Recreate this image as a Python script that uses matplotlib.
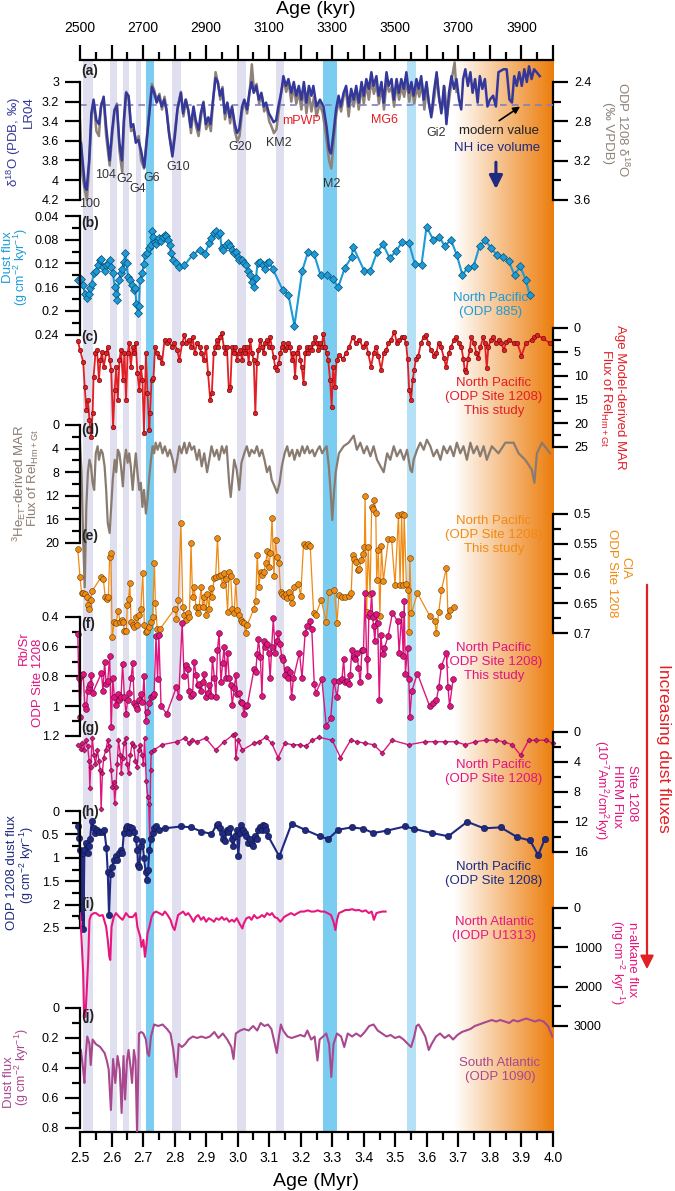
import numpy as np
import matplotlib
matplotlib.use('Agg')
import matplotlib.pyplot as plt
from matplotlib.colors import LinearSegmentedColormap
from matplotlib.ticker import MultipleLocator, FuncFormatter

plt.rcParams['font.family'] = ['Liberation Sans', 'DejaVu Sans']
plt.rcParams['mathtext.fontset'] = 'custom'
plt.rcParams['mathtext.rm'] = 'Liberation Sans'
plt.rcParams['mathtext.it'] = 'Liberation Sans:italic'
plt.rcParams['mathtext.bf'] = 'Liberation Sans:bold'
plt.rcParams['mathtext.default'] = 'regular'

# ---------------- data ----------------
# (a) LR04 benthic d18O
lr04_age = [2.503, 2.516, 2.521, 2.529, 2.536, 2.543, 2.552, 2.560, 2.567, 2.575,
            2.583, 2.594, 2.602, 2.609, 2.617, 2.625, 2.633, 2.639, 2.646, 2.654,
            2.662, 2.669, 2.677, 2.685, 2.693, 2.704, 2.711, 2.720, 2.728, 2.735,
            2.743, 2.750, 2.759, 2.767, 2.774, 2.782, 2.793, 2.801, 2.809, 2.820,
            2.827, 2.835, 2.843, 2.851, 2.860, 2.867, 2.876, 2.883, 2.891, 2.899,
            2.907, 2.914, 2.922, 2.930, 2.937, 2.944, 2.951, 2.959, 2.967, 2.975,
            2.982, 2.991, 2.998, 3.005, 3.014, 3.021, 3.030, 3.037, 3.044, 3.051,
            3.059, 3.067, 3.075, 3.083, 3.090, 3.099, 3.106, 3.114, 3.122, 3.129,
            3.138, 3.145, 3.153, 3.161, 3.170, 3.178, 3.186, 3.194, 3.202, 3.210,
            3.218, 3.226, 3.234, 3.240, 3.250, 3.261, 3.272, 3.282, 3.290, 3.296,
            3.304, 3.312, 3.320, 3.327, 3.336, 3.344, 3.352, 3.360, 3.368, 3.376,
            3.384, 3.393, 3.400, 3.408, 3.416, 3.424, 3.431, 3.440, 3.447, 3.456,
            3.463, 3.472, 3.479, 3.488, 3.495, 3.504, 3.511, 3.519, 3.527, 3.535,
            3.543, 3.551, 3.558, 3.567, 3.574, 3.582, 3.590, 3.599, 3.606, 3.614,
            3.622, 3.631, 3.638, 3.646, 3.654, 3.662, 3.670, 3.678, 3.686, 3.694,
            3.702, 3.709, 3.715, 3.722, 3.730, 3.738, 3.745, 3.753, 3.761, 3.768,
            3.776, 3.784, 3.792, 3.800, 3.810, 3.819, 3.827, 3.843, 3.853, 3.862,
            3.870, 3.877, 3.885, 3.893, 3.901, 3.909, 3.917, 3.924, 3.932, 3.940,
            3.948, 3.958]
lr04_d18o = [3.62, 4.07, 4.10, 3.80, 3.32, 3.18, 3.39, 3.43, 3.25, 3.15,
             3.46, 3.80, 3.49, 3.29, 3.24, 3.62, 3.80, 3.39, 3.11, 3.14,
             3.46, 3.43, 3.62, 3.59, 3.69, 3.87, 3.62, 3.32, 3.05, 3.11,
             3.21, 3.14, 3.25, 3.18, 3.28, 3.52, 3.76, 3.55, 3.28, 3.11,
             3.32, 3.18, 3.28, 3.46, 3.25, 3.39, 3.49, 3.32, 3.21, 3.43,
             3.36, 3.43, 3.18, 2.96, 3.00, 3.14, 3.07, 3.32, 3.21, 3.36,
             3.25, 3.43, 3.52, 3.48, 3.25, 3.18, 3.28, 3.11, 3.00, 3.11,
             3.04, 3.18, 3.11, 3.25, 3.21, 3.32, 3.36, 3.41, 3.39, 3.25,
             3.11, 2.94, 3.04, 2.97, 3.11, 3.00, 3.14, 3.04, 3.18, 3.00,
             3.21, 3.04, 3.14, 3.04, 3.25, 3.18, 3.25, 3.46, 3.69, 3.73,
             3.52, 3.28, 3.14, 3.25, 3.11, 3.04, 3.25, 3.07, 3.18, 3.04,
             3.21, 3.00, 3.14, 2.97, 3.07, 2.90, 3.04, 2.94, 3.14, 3.00,
             3.21, 2.90, 3.04, 2.97, 3.18, 2.97, 3.11, 2.97, 3.07, 2.90,
             3.11, 3.00, 3.14, 2.97, 3.07, 2.94, 3.18, 3.00, 3.21, 3.36,
             3.11, 2.90, 3.14, 3.32, 3.04, 3.43, 3.11, 2.94, 3.07, 2.97,
             3.18, 3.28, 2.97, 2.87, 3.04, 2.90, 3.11, 2.97, 3.21, 2.94,
             3.07, 2.97, 3.25, 3.18, 3.14, 3.25, 2.90, 2.87, 2.87, 3.18,
             3.21, 2.94, 3.04, 2.90, 3.04, 2.87, 3.00, 2.84, 2.97, 2.87,
             2.90, 2.94]

# (a) ODP 1208 benthic d18O
odp18_age = [2.500, 2.508, 2.515, 2.522, 2.530, 2.537, 2.545, 2.552, 2.560, 2.567,
             2.575, 2.583, 2.594, 2.602, 2.610, 2.617, 2.625, 2.634, 2.640, 2.647,
             2.655, 2.662, 2.670, 2.678, 2.686, 2.694, 2.703, 2.711, 2.720, 2.728,
             2.735, 2.745, 2.752, 2.760, 2.768, 2.776, 2.784, 2.793, 2.801, 2.810,
             2.820, 2.828, 2.836, 2.845, 2.852, 2.860, 2.868, 2.876, 2.884, 2.892,
             2.900, 2.908, 2.915, 2.923, 2.930, 2.938, 2.945, 2.952, 2.960, 2.968,
             2.976, 2.983, 2.991, 2.999, 3.006, 3.014, 3.022, 3.030, 3.038, 3.045,
             3.052, 3.060, 3.068, 3.076, 3.084, 3.092, 3.100, 3.107, 3.115, 3.123,
             3.130, 3.138, 3.146, 3.154, 3.162, 3.170, 3.178, 3.186, 3.194, 3.202,
             3.210, 3.218, 3.226, 3.234, 3.242, 3.250, 3.260, 3.270, 3.280, 3.290,
             3.297, 3.305, 3.313, 3.320, 3.328, 3.336, 3.344, 3.352, 3.360, 3.368,
             3.376, 3.384, 3.393, 3.400, 3.408, 3.416, 3.424, 3.432, 3.440, 3.448,
             3.456, 3.464, 3.472, 3.480, 3.488, 3.496, 3.504, 3.512, 3.520, 3.528,
             3.536, 3.544, 3.552, 3.560, 3.568, 3.576, 3.584, 3.592, 3.600, 3.608,
             3.616, 3.624, 3.632, 3.640, 3.648, 3.656, 3.664, 3.672, 3.680, 3.688,
             3.694]
odp18_d18o = [2.79, 3.35, 3.50, 3.60, 3.20, 2.72, 2.65, 2.90, 2.95, 2.62,
              2.58, 2.95, 3.25, 2.95, 2.68, 2.62, 3.10, 3.32, 2.80, 2.50,
              2.58, 2.90, 2.88, 3.00, 2.95, 3.20, 3.28, 3.00, 2.68, 2.42,
              2.48, 2.60, 2.52, 2.68, 2.55, 2.72, 2.95, 3.12, 2.90, 2.65,
              2.50, 2.75, 2.58, 2.72, 2.92, 2.68, 2.85, 2.95, 2.75, 2.60,
              2.88, 2.80, 2.90, 2.55, 2.30, 2.42, 2.58, 2.45, 2.78, 2.62,
              2.82, 2.68, 2.90, 3.00, 2.95, 2.70, 2.60, 2.72, 2.50, 2.22,
              2.50, 2.42, 2.62, 2.52, 2.70, 2.65, 2.80, 2.85, 2.92, 2.88,
              2.70, 2.50, 2.38, 2.50, 2.40, 2.60, 2.45, 2.62, 2.50, 2.68,
              2.45, 2.72, 2.52, 2.70, 2.55, 2.75, 2.62, 2.72, 2.95, 3.20,
              3.28, 3.00, 2.72, 2.60, 2.70, 2.55, 2.50, 2.75, 2.52, 2.65,
              2.50, 2.68, 2.45, 2.62, 2.42, 2.58, 2.38, 2.52, 2.42, 2.62,
              2.45, 2.68, 2.40, 2.50, 2.45, 2.65, 2.42, 2.58, 2.45, 2.55,
              2.38, 2.60, 2.45, 2.62, 2.45, 2.55, 2.40, 2.68, 2.45, 2.65,
              2.72, 2.55, 2.35, 2.60, 2.68, 2.45, 2.75, 2.55, 2.35, 2.20,
              2.50]

# (b) ODP 885 dust flux
odp885_age = [2.493, 2.502, 2.510, 2.515, 2.523, 2.527, 2.533, 2.537, 2.544, 2.551,
              2.557, 2.562, 2.567, 2.573, 2.578, 2.583, 2.589, 2.594, 2.599, 2.605,
              2.610, 2.615, 2.618, 2.623, 2.629, 2.634, 2.640, 2.644, 2.648, 2.652,
              2.657, 2.665, 2.671, 2.675, 2.679, 2.684, 2.687, 2.690, 2.697, 2.702,
              2.707, 2.713, 2.719, 2.724, 2.728, 2.732, 2.737, 2.742, 2.747, 2.752,
              2.757, 2.763, 2.768, 2.773, 2.778, 2.784, 2.789, 2.794, 2.805, 2.815,
              2.831, 2.857, 2.879, 2.896, 2.910, 2.917, 2.926, 2.931, 2.938, 2.944,
              2.949, 2.955, 2.963, 2.968, 2.976, 2.982, 2.989, 2.995, 3.000, 3.005,
              3.013, 3.019, 3.026, 3.034, 3.040, 3.044, 3.051, 3.058, 3.063, 3.072,
              3.079, 3.087, 3.093, 3.100, 3.111, 3.143, 3.161, 3.180, 3.205, 3.223,
              3.242, 3.263, 3.284, 3.301, 3.319, 3.340, 3.361, 3.366, 3.401, 3.421,
              3.442, 3.461, 3.482, 3.503, 3.521, 3.543, 3.562, 3.583, 3.599, 3.620,
              3.639, 3.657, 3.676, 3.695, 3.713, 3.729, 3.748, 3.767, 3.785, 3.804,
              3.822, 3.841, 3.859, 3.878, 3.896, 3.914, 3.926]
odp885_flux = [0.148, 0.147, 0.157, 0.171, 0.179, 0.171, 0.162, 0.154, 0.137, 0.132,
               0.123, 0.115, 0.113, 0.126, 0.132, 0.123, 0.121, 0.115, 0.126, 0.137,
               0.160, 0.171, 0.181, 0.148, 0.137, 0.129, 0.118, 0.103, 0.120, 0.143,
               0.148, 0.157, 0.165, 0.162, 0.189, 0.203, 0.192, 0.148, 0.137, 0.121,
               0.106, 0.103, 0.094, 0.089, 0.065, 0.075, 0.084, 0.087, 0.080, 0.077,
               0.083, 0.075, 0.072, 0.073, 0.080, 0.089, 0.103, 0.115, 0.120, 0.126,
               0.123, 0.106, 0.097, 0.104, 0.086, 0.077, 0.069, 0.066, 0.072, 0.069,
               0.094, 0.097, 0.089, 0.086, 0.091, 0.097, 0.103, 0.100, 0.109, 0.115,
               0.115, 0.120, 0.123, 0.132, 0.140, 0.152, 0.160, 0.145, 0.120, 0.118,
               0.123, 0.129, 0.120, 0.118, 0.129, 0.165, 0.173, 0.225, 0.132, 0.101,
               0.104, 0.140, 0.139, 0.147, 0.160, 0.127, 0.110, 0.092, 0.132, 0.132,
               0.101, 0.088, 0.111, 0.099, 0.084, 0.085, 0.121, 0.122, 0.058, 0.080,
               0.075, 0.091, 0.080, 0.106, 0.140, 0.127, 0.125, 0.091, 0.081, 0.094,
               0.106, 0.109, 0.116, 0.139, 0.125, 0.148, 0.174]

# (c) age-model MAR, Rel Hm+Gt flux, ODP 1208
mar_age = [2.493, 2.500, 2.510, 2.515, 2.520, 2.525, 2.530, 2.535, 2.540, 2.543,
           2.549, 2.554, 2.560, 2.565, 2.570, 2.575, 2.583, 2.588, 2.594, 2.599,
           2.605, 2.610, 2.615, 2.620, 2.625, 2.630, 2.636, 2.641, 2.646, 2.651,
           2.656, 2.661, 2.667, 2.672, 2.677, 2.682, 2.688, 2.693, 2.698, 2.703,
           2.709, 2.714, 2.720, 2.722, 2.727, 2.733, 2.738, 2.745, 2.752, 2.760,
           2.768, 2.776, 2.783, 2.791, 2.799, 2.808, 2.815, 2.824, 2.831, 2.837,
           2.845, 2.852, 2.857, 2.864, 2.871, 2.879, 2.885, 2.892, 2.900, 2.906,
           2.913, 2.918, 2.924, 2.929, 2.934, 2.939, 2.945, 2.950, 2.956, 2.961,
           2.966, 2.972, 2.977, 2.982, 2.988, 2.993, 2.998, 3.003, 3.008, 3.014,
           3.019, 3.024, 3.030, 3.035, 3.040, 3.045, 3.051, 3.056, 3.061, 3.066,
           3.072, 3.077, 3.082, 3.087, 3.093, 3.098, 3.103, 3.108, 3.114, 3.119,
           3.124, 3.130, 3.135, 3.140, 3.145, 3.150, 3.156, 3.161, 3.166, 3.172,
           3.177, 3.182, 3.187, 3.193, 3.198, 3.203, 3.209, 3.214, 3.219, 3.224,
           3.230, 3.235, 3.240, 3.245, 3.251, 3.256, 3.261, 3.266, 3.272, 3.277,
           3.282, 3.287, 3.293, 3.298, 3.303, 3.308, 3.314, 3.322, 3.333, 3.344,
           3.354, 3.365, 3.375, 3.386, 3.396, 3.407, 3.414, 3.423, 3.431, 3.439,
           3.446, 3.455, 3.463, 3.471, 3.478, 3.486, 3.497, 3.505, 3.513, 3.520,
           3.528, 3.534, 3.539, 3.544, 3.550, 3.555, 3.560, 3.565, 3.573, 3.581,
           3.590, 3.597, 3.605, 3.613, 3.622, 3.630, 3.637, 3.645, 3.654, 3.661,
           3.669, 3.677, 3.686, 3.693, 3.702, 3.709, 3.716, 3.720, 3.725, 3.730,
           3.736, 3.741, 3.750, 3.757, 3.763, 3.770, 3.779, 3.784, 3.790, 3.795,
           3.804, 3.811, 3.820, 3.828, 3.836, 3.844, 3.852, 3.860, 3.877, 3.887,
           3.900, 3.914, 3.932, 3.941, 3.950, 3.968, 3.991]
mar_flux = [2.7, 4.6, 7.1, 12.4, 17.2, 15.1, 19.3, 22.9, 17.9, 10.3,
            5.3, 4.6, 10.9, 6.7, 5.0, 8.2, 5.3, 4.0, 6.7, 8.8,
            20.8, 13.0, 8.2, 15.1, 6.7, 4.6, 10.9, 5.3, 15.1, 5.3,
            3.2, 8.2, 4.0, 5.3, 3.2, 9.5, 13.0, 8.2, 10.9, 22.1,
            5.3, 13.7, 21.4, 17.9, 10.9, 10.6, 4.0, 5.3, 6.1, 7.4,
            2.5, 3.2, 2.5, 4.0, 3.2, 4.6, 6.7, 3.2, 1.5, 3.2,
            2.5, 4.0, 1.8, 5.3, 3.2, 4.0, 5.3, 6.7, 4.0, 9.5,
            15.1, 13.7, 5.3, 4.0, 2.5, 4.0, 1.8, 1.1, 4.0, 5.3,
            4.0, 13.0, 12.3, 4.0, 5.3, 4.0, 6.7, 5.3, 4.6, 6.7,
            4.0, 5.3, 4.0, 7.4, 2.5, 5.3, 6.7, 17.9, 7.4, 4.6,
            2.5, 4.0, 5.3, 3.2, 2.5, 4.0, 1.8, 4.0, 6.1, 8.2,
            8.8, 7.4, 5.3, 4.0, 3.2, 4.6, 4.0, 3.2, 4.0, 6.7,
            5.3, 10.2, 5.3, 4.0, 6.7, 8.2, 11.6, 5.3, 4.0, 5.3,
            4.0, 4.6, 3.2, 1.8, 3.2, 4.6, 3.2, 4.0, 1.2, 4.0,
            5.3, 6.7, 10.9, 16.5, 8.2, 12.3, 6.7, 5.6, 6.6, 5.2,
            3.9, 1.9, 3.2, 2.5, 3.9, 3.2, 5.3, 8.2, 5.3, 3.9,
            5.8, 8.8, 5.3, 4.6, 3.2, 2.5, 0.8, 3.2, 2.5, 1.9,
            1.9, 3.2, 6.6, 13.1, 15.1, 10.9, 8.8, 6.6, 5.8, 3.2,
            1.9, 1.5, 3.2, 4.6, 5.8, 5.3, 3.2, 3.9, 6.3, 8.2,
            5.3, 3.9, 2.5, 1.9, 3.2, 3.9, 6.6, 8.8, 9.2, 6.6,
            4.6, 1.9, 3.2, 5.3, 6.3, 3.9, 1.9, 3.2, 8.4, 3.9,
            2.5, 1.9, 3.2, 2.5, 3.2, 4.6, 2.9, 2.5, 3.2, 3.2,
            5.8, 3.2, 2.5, 1.9, 1.5, 2.2, 3.2]

# (d) 3He_ET-derived MAR, Rel Hm+Gt flux
he_age = [2.500, 2.505, 2.510, 2.515, 2.520, 2.525, 2.530, 2.535, 2.540, 2.545,
          2.550, 2.556, 2.560, 2.567, 2.572, 2.578, 2.583, 2.588, 2.594, 2.599,
          2.604, 2.610, 2.615, 2.620, 2.625, 2.630, 2.636, 2.641, 2.646, 2.651,
          2.656, 2.661, 2.667, 2.672, 2.677, 2.682, 2.688, 2.693, 2.698, 2.703,
          2.709, 2.714, 2.719, 2.725, 2.730, 2.735, 2.740, 2.746, 2.754, 2.762,
          2.769, 2.778, 2.785, 2.794, 2.801, 2.808, 2.815, 2.822, 2.831, 2.838,
          2.847, 2.854, 2.862, 2.871, 2.878, 2.886, 2.894, 2.903, 2.910, 2.917,
          2.926, 2.934, 2.941, 2.950, 2.957, 2.965, 2.973, 2.978, 2.983, 2.989,
          2.997, 3.005, 3.012, 3.021, 3.029, 3.037, 3.044, 3.053, 3.061, 3.069,
          3.077, 3.085, 3.093, 3.101, 3.108, 3.117, 3.125, 3.133, 3.140, 3.149,
          3.157, 3.164, 3.173, 3.180, 3.189, 3.196, 3.205, 3.212, 3.221, 3.228,
          3.237, 3.244, 3.253, 3.260, 3.268, 3.274, 3.282, 3.289, 3.295, 3.300,
          3.306, 3.311, 3.321, 3.336, 3.352, 3.368, 3.378, 3.389, 3.400, 3.410,
          3.421, 3.431, 3.442, 3.453, 3.463, 3.474, 3.484, 3.495, 3.505, 3.516,
          3.527, 3.537, 3.548, 3.553, 3.558, 3.569, 3.579, 3.590, 3.600, 3.611,
          3.621, 3.632, 3.643, 3.653, 3.664, 3.674, 3.685, 3.695, 3.706, 3.716,
          3.727, 3.738, 3.748, 3.759, 3.769, 3.780, 3.790, 3.806, 3.827, 3.849,
          3.875, 3.891, 3.912, 3.933, 3.941, 3.949, 3.965, 3.991]
he_flux = [3.0, 8.0, 19.5, 27.5, 13.9, 8.0, 5.9, 7.0, 9.8, 11.0,
           4.8, 3.6, 5.9, 4.2, 4.8, 7.0, 11.0, 16.6, 18.3, 13.9,
           9.3, 5.9, 8.0, 4.2, 4.8, 7.0, 10.4, 5.9, 4.2, 6.4,
           4.8, 7.0, 11.0, 7.6, 4.8, 8.0, 11.0, 9.8, 13.9, 11.0,
           15.0, 12.7, 9.3, 5.9, 3.6, 4.8, 3.0, 4.2, 3.0, 4.8,
           3.6, 5.3, 4.2, 5.9, 8.0, 5.9, 3.6, 4.8, 3.0, 4.8,
           3.0, 4.2, 3.6, 5.9, 4.2, 7.0, 4.8, 8.0, 5.9, 3.6,
           5.3, 4.2, 5.9, 3.6, 4.8, 3.6, 9.8, 12.2, 9.3, 5.9,
           7.6, 11.0, 6.4, 4.8, 3.6, 5.3, 4.2, 4.8, 3.6, 5.3,
           4.2, 5.9, 8.0, 7.0, 9.3, 10.4, 11.5, 9.8, 7.0, 4.8,
           3.6, 5.3, 4.2, 5.9, 4.2, 5.3, 3.6, 4.8, 3.6, 4.8,
           4.2, 5.3, 4.2, 3.6, 4.8, 4.2, 3.6, 7.0, 11.5, 16.1,
           11.0, 8.0, 4.8, 3.6, 3.0, 1.8, 4.2, 3.0, 4.8, 3.6,
           5.3, 3.6, 5.9, 7.0, 8.0, 4.8, 5.9, 3.6, 5.3, 4.2,
           5.9, 4.2, 7.6, 8.0, 5.9, 4.2, 3.0, 4.2, 2.5, 3.6,
           5.3, 4.2, 5.9, 3.6, 4.8, 3.6, 5.3, 3.0, 4.8, 3.6,
           5.9, 3.0, 4.8, 3.6, 5.3, 3.6, 5.9, 3.6, 4.8, 3.0,
           3.0, 4.8, 5.9, 7.6, 9.8, 4.8, 3.0, 4.8]

# (e) CIA, ODP 1208
cia_age = [2.493, 2.500, 2.505, 2.510, 2.517, 2.521, 2.525, 2.528, 2.534, 2.538,
           2.567, 2.574, 2.580, 2.585, 2.590, 2.594, 2.598, 2.602, 2.609, 2.614,
           2.621, 2.627, 2.632, 2.637, 2.641, 2.647, 2.650, 2.654, 2.658, 2.662,
           2.667, 2.672, 2.677, 2.682, 2.688, 2.693, 2.699, 2.704, 2.709, 2.714,
           2.720, 2.725, 2.730, 2.736, 2.739, 2.745, 2.754, 2.801, 2.806, 2.812,
           2.820, 2.826, 2.831, 2.836, 2.842, 2.847, 2.852, 2.857, 2.862, 2.868,
           2.873, 2.878, 2.884, 2.889, 2.894, 2.899, 2.904, 2.909, 2.915, 2.920,
           2.925, 2.930, 2.936, 2.941, 2.946, 2.952, 2.957, 2.962, 2.968, 2.973,
           2.978, 2.983, 2.989, 2.994, 2.999, 3.004, 3.010, 3.015, 3.020, 3.025,
           3.030, 3.051, 3.057, 3.062, 3.067, 3.073, 3.078, 3.083, 3.089, 3.094,
           3.099, 3.104, 3.109, 3.115, 3.120, 3.125, 3.131, 3.136, 3.141, 3.147,
           3.152, 3.157, 3.162, 3.168, 3.173, 3.178, 3.192, 3.200, 3.209, 3.216,
           3.223, 3.230, 3.241, 3.247, 3.265, 3.281, 3.289, 3.307, 3.315, 3.321,
           3.331, 3.341, 3.352, 3.360, 3.365, 3.370, 3.376, 3.381, 3.386, 3.391,
           3.396, 3.402, 3.404, 3.409, 3.414, 3.420, 3.425, 3.430, 3.433, 3.438,
           3.441, 3.446, 3.451, 3.456, 3.462, 3.478, 3.488, 3.499, 3.510, 3.515,
           3.520, 3.525, 3.528, 3.535, 3.541, 3.543, 3.546, 3.551, 3.570, 3.609,
           3.625, 3.630, 3.638, 3.646, 3.662, 3.667, 3.672, 3.686]
cia_val = [0.559, 0.606, 0.633, 0.633, 0.634, 0.639, 0.653, 0.659, 0.645, 0.630,
           0.606, 0.610, 0.639, 0.643, 0.639, 0.572, 0.566, 0.707, 0.681, 0.684,
           0.663, 0.681, 0.678, 0.681, 0.697, 0.697, 0.653, 0.643, 0.616, 0.681,
           0.687, 0.690, 0.673, 0.687, 0.670, 0.659, 0.599, 0.687, 0.699, 0.696,
           0.690, 0.681, 0.673, 0.583, 0.650, 0.693, 0.693, 0.659, 0.676, 0.645,
           0.515, 0.656, 0.670, 0.678, 0.667, 0.673, 0.549, 0.639, 0.622, 0.656,
           0.667, 0.656, 0.622, 0.656, 0.639, 0.670, 0.634, 0.659, 0.625, 0.639,
           0.608, 0.606, 0.540, 0.605, 0.602, 0.619, 0.599, 0.610, 0.664, 0.597,
           0.605, 0.659, 0.667, 0.613, 0.662, 0.670, 0.678, 0.681, 0.684, 0.700,
           0.687, 0.660, 0.647, 0.569, 0.622, 0.598, 0.603, 0.598, 0.583, 0.563,
           0.589, 0.566, 0.507, 0.605, 0.543, 0.572, 0.583, 0.631, 0.634, 0.637,
           0.634, 0.642, 0.631, 0.639, 0.649, 0.622, 0.618, 0.637, 0.550, 0.553,
           0.551, 0.553, 0.667, 0.670, 0.645, 0.681, 0.631, 0.628, 0.683, 0.636,
           0.640, 0.640, 0.638, 0.632, 0.569, 0.575, 0.581, 0.594, 0.592, 0.578,
           0.567, 0.556, 0.470, 0.665, 0.555, 0.634, 0.488, 0.491, 0.477, 0.498,
           0.611, 0.560, 0.671, 0.554, 0.613, 0.542, 0.542, 0.619, 0.502, 0.619,
           0.500, 0.619, 0.502, 0.618, 0.627, 0.699, 0.574, 0.667, 0.633, 0.671,
           0.679, 0.700, 0.664, 0.628, 0.591, 0.671, 0.661, 0.656]

# (f) Rb/Sr, ODP 1208
rbsr_age = [2.493, 2.496, 2.500, 2.505, 2.510, 2.515, 2.520, 2.524, 2.529, 2.532,
            2.536, 2.540, 2.568, 2.573, 2.578, 2.583, 2.588, 2.594, 2.599, 2.604,
            2.609, 2.614, 2.620, 2.625, 2.630, 2.635, 2.641, 2.646, 2.651, 2.656,
            2.662, 2.667, 2.672, 2.677, 2.682, 2.688, 2.693, 2.698, 2.703, 2.709,
            2.714, 2.720, 2.725, 2.730, 2.735, 2.741, 2.746, 2.750, 2.757, 2.775,
            2.806, 2.813, 2.824, 2.830, 2.835, 2.841, 2.846, 2.852, 2.857, 2.862,
            2.868, 2.873, 2.878, 2.884, 2.889, 2.894, 2.900, 2.905, 2.910, 2.915,
            2.920, 2.926, 2.931, 2.936, 2.941, 2.947, 2.952, 2.957, 2.962, 2.968,
            2.973, 2.978, 2.983, 2.989, 2.994, 2.999, 3.004, 3.010, 3.015, 3.020,
            3.025, 3.031, 3.052, 3.057, 3.062, 3.066, 3.072, 3.077, 3.082, 3.087,
            3.092, 3.098, 3.103, 3.108, 3.113, 3.119, 3.124, 3.129, 3.134, 3.140,
            3.145, 3.150, 3.156, 3.161, 3.166, 3.171, 3.177, 3.196, 3.204, 3.214,
            3.220, 3.228, 3.235, 3.243, 3.248, 3.267, 3.281, 3.295, 3.305, 3.315,
            3.321, 3.331, 3.336, 3.341, 3.347, 3.352, 3.357, 3.362, 3.368, 3.373,
            3.378, 3.383, 3.389, 3.394, 3.399, 3.404, 3.409, 3.412, 3.416, 3.421,
            3.425, 3.428, 3.431, 3.435, 3.440, 3.444, 3.449, 3.454, 3.460, 3.465,
            3.477, 3.491, 3.507, 3.512, 3.520, 3.525, 3.528, 3.532, 3.539, 3.543,
            3.546, 3.552, 3.570, 3.609, 3.620, 3.630, 3.638, 3.646, 3.662, 3.667,
            3.672, 3.683]
rbsr_val = [0.514, 0.81, 1.07, 0.79, 0.78, 0.99, 1.02, 0.90, 0.87, 0.85,
            0.79, 0.91, 0.777, 0.90, 0.70, 0.85, 0.83, 0.66, 1.14, 0.81,
            0.94, 0.99, 0.92, 0.96, 0.94, 0.715, 0.94, 1.05, 0.96, 0.91,
            0.81, 0.71, 0.98, 1.00, 1.02, 0.96, 0.92, 0.97, 0.80, 1.10,
            1.04, 0.98, 0.94, 0.93, 0.92, 0.53, 0.82, 0.52, 1.00, 1.05,
            0.87, 0.94, 0.44, 0.80, 0.72, 0.75, 0.90, 0.93, 0.92, 0.70,
            0.79, 0.86, 0.85, 0.90, 0.84, 0.78, 0.94, 0.91, 0.86, 0.93,
            0.68, 0.81, 0.94, 0.62, 0.51, 0.84, 0.71, 0.60, 0.81, 0.64,
            0.81, 0.86, 0.99, 0.88, 0.79, 0.92, 0.91, 0.97, 0.98, 1.05,
            1.00, 0.99, 0.75, 0.77, 0.65, 0.55, 0.67, 0.93, 0.56, 0.60,
            0.58, 0.64, 0.81, 0.60, 0.41, 0.64, 0.56, 0.51, 0.58, 0.67,
            0.69, 0.79, 0.75, 0.81, 0.77, 0.94, 0.81, 0.64, 0.81, 0.51,
            0.46, 0.43, 0.48, 0.85, 0.91, 0.82, 1.13, 1.08, 0.83, 0.94,
            0.83, 0.82, 0.68, 0.84, 0.83, 0.85, 0.79, 0.62, 0.67, 0.68,
            0.64, 0.74, 0.84, 0.62, 0.62, 0.24, 0.68, 0.80, 0.39, 0.37,
            0.24, 0.40, 0.46, 0.56, 0.38, 0.44, 0.96, 0.52, 0.65, 0.61,
            0.53, 0.37, 0.43, 0.64, 0.38, 0.66, 0.29, 0.78, 0.61, 0.82,
            1.07, 0.90, 0.78, 1.00, 0.98, 0.96, 0.87, 0.73, 0.64, 0.87,
            1.00, 0.82]

# (g) HIRM flux, Site 1208
hirm_age = [2.494, 2.503, 2.507, 2.513, 2.518, 2.524, 2.529, 2.531, 2.534, 2.539,
            2.544, 2.549, 2.555, 2.560, 2.564, 2.567, 2.571, 2.575, 2.582, 2.588,
            2.593, 2.599, 2.603, 2.607, 2.610, 2.614, 2.618, 2.622, 2.628, 2.631,
            2.635, 2.640, 2.645, 2.649, 2.654, 2.660, 2.665, 2.670, 2.676, 2.681,
            2.686, 2.691, 2.697, 2.701, 2.705, 2.710, 2.715, 2.718, 2.721, 2.724,
            2.726, 2.734, 2.760, 2.808, 2.834, 2.845, 2.855, 2.871, 2.898, 2.930,
            2.957, 2.985, 2.992, 2.994, 3.002, 3.015, 3.052, 3.068, 3.089, 3.108,
            3.128, 3.150, 3.174, 3.197, 3.216, 3.237, 3.258, 3.300, 3.326, 3.358,
            3.379, 3.405, 3.432, 3.458, 3.490, 3.542, 3.595, 3.627, 3.659, 3.691,
            3.722, 3.754, 3.786, 3.818, 3.844, 3.871, 3.897, 3.923, 3.945, 3.977,
            4.000]
hirm_flux = [1.7, 2.2, 1.5, 2.4, 1.1, 1.9, 3.8, 7.5, 4.7, 0.8,
             3.0, 4.3, 2.4, 3.8, 5.1, 10.3, 5.5, 3.4, 2.4, 1.1,
             1.9, 5.1, 7.3, 6.7, 9.4, 7.3, 4.3, 1.1, 3.0, 5.5,
             3.4, 1.5, 0.8, 4.3, 5.5, 3.0, 1.5, 1.9, 3.8, 4.7,
             2.4, 1.7, 3.0, 4.3, 0.8, 6.5, 8.7, 9.6, 14.1, 5.1,
             2.6, 2.4, 1.7, 1.3, 0.8, 1.5, 1.1, 1.3, 0.8, 2.4,
             1.3, 0.4, 0.2, 3.5, 1.1, 2.4, 1.5, 1.3, 0.7, 1.5,
             3.4, 1.5, 1.7, 1.7, 1.9, 1.1, 0.7, 1.1, 3.4, 1.1,
             1.3, 1.5, 1.7, 2.8, 1.1, 1.7, 1.3, 1.3, 1.3, 1.3,
             1.7, 1.3, 1.1, 1.1, 1.3, 1.7, 3.1, 1.1, 1.1, 1.1,
             1.5]

# (h) ODP 1208 dust flux
dust1208_age = [2.493, 2.497, 2.500, 2.504, 2.508, 2.511, 2.514, 2.519, 2.524, 2.528,
                2.532, 2.537, 2.543, 2.548, 2.553, 2.561, 2.569, 2.577, 2.584, 2.588,
                2.592, 2.597, 2.602, 2.607, 2.613, 2.618, 2.623, 2.629, 2.634, 2.639,
                2.645, 2.650, 2.655, 2.660, 2.666, 2.671, 2.677, 2.682, 2.684, 2.688,
                2.693, 2.698, 2.703, 2.708, 2.712, 2.716, 2.720, 2.725, 2.730, 2.735,
                2.741, 2.751, 2.768, 2.821, 2.853, 2.885, 2.917, 2.933, 2.938, 2.944,
                2.949, 2.954, 2.960, 2.965, 2.970, 2.976, 2.981, 2.986, 2.991, 2.997,
                3.002, 3.007, 3.012, 3.018, 3.023, 3.028, 3.034, 3.039, 3.044, 3.049,
                3.055, 3.060, 3.065, 3.070, 3.076, 3.081, 3.086, 3.091, 3.097, 3.132,
                3.171, 3.213, 3.261, 3.287, 3.319, 3.361, 3.399, 3.430, 3.473, 3.531,
                3.558, 3.616, 3.668, 3.728, 3.781, 3.834, 3.887, 3.927, 3.953, 3.974]
dust1208_flux = [0.32, 0.58, 0.83, 2.27, 0.90, 2.52, 0.83, 0.68, 0.90, 0.75,
                 0.60, 0.21, 0.37, 0.47, 0.40, 0.45, 0.45, 0.40, 0.80, 1.30,
                 2.22, 1.35, 1.20, 1.05, 0.97, 1.05, 0.90, 0.83, 0.90, 0.47,
                 0.37, 0.33, 0.47, 0.35, 0.37, 0.44, 0.60, 0.83, 1.15, 1.20,
                 0.75, 0.65, 1.00, 1.30, 1.47, 1.26, 0.83, 0.60, 0.47, 0.37,
                 0.33, 0.40, 0.37, 0.33, 0.35, 0.44, 0.49, 0.30, 0.27, 0.37,
                 0.47, 0.60, 0.65, 0.40, 0.44, 0.37, 0.60, 0.75, 0.54, 0.40,
                 0.97, 0.47, 0.30, 0.40, 0.47, 0.54, 0.68, 0.60, 0.71, 0.75,
                 0.54, 0.60, 0.40, 0.35, 0.40, 0.30, 0.33, 0.40, 0.54, 0.97,
                 0.27, 0.40, 0.54, 0.60, 0.40, 0.35, 0.38, 0.47, 0.42, 0.33,
                 0.38, 0.47, 0.54, 0.23, 0.37, 0.35, 0.56, 0.63, 0.94, 0.60]

# (i) n-alkane flux, IODP U1313
alk_age = [2.490, 2.500, 2.503, 2.510, 2.513, 2.517, 2.521, 2.526, 2.530, 2.535,
           2.544, 2.551, 2.562, 2.572, 2.583, 2.588, 2.593, 2.596, 2.600, 2.607,
           2.614, 2.625, 2.635, 2.646, 2.656, 2.667, 2.677, 2.682, 2.691, 2.695,
           2.701, 2.706, 2.710, 2.714, 2.720, 2.727, 2.733, 2.741, 2.751, 2.762,
           2.769, 2.778, 2.787, 2.794, 2.800, 2.806, 2.811, 2.820, 2.827, 2.835,
           2.843, 2.852, 2.860, 2.867, 2.875, 2.884, 2.892, 2.900, 2.908, 2.917,
           2.925, 2.932, 2.941, 2.950, 2.957, 2.965, 2.973, 2.982, 2.989, 2.997,
           3.006, 3.015, 3.019, 3.028, 3.037, 3.044, 3.052, 3.061, 3.070, 3.077,
           3.085, 3.093, 3.102, 3.109, 3.117, 3.126, 3.135, 3.141, 3.147, 3.158,
           3.169, 3.180, 3.190, 3.200, 3.211, 3.222, 3.233, 3.243, 3.254, 3.264,
           3.275, 3.285, 3.296, 3.304, 3.310, 3.315, 3.321, 3.332, 3.342, 3.353,
           3.363, 3.374, 3.385, 3.395, 3.406, 3.416, 3.425, 3.432, 3.440, 3.448,
           3.459, 3.469]
alk_flux = [50, 130, 480, 1650, 2770, 2770, 2160, 1320, 305, 180,
            130, 130, 200, 180, 480, 810, 1240, 1320, 480, 230,
            130, 230, 300, 130, 230, 230, 130, 480, 730, 990,
            810, 1240, 990, 650, 480, 230, 130, 90, 130, 180,
            90, 180, 300, 480, 560, 350, 180, 130, 90, 180,
            130, 230, 350, 230, 180, 300, 230, 350, 260, 300,
            350, 260, 300, 230, 300, 260, 350, 300, 350, 260,
            400, 520, 400, 260, 230, 300, 180, 260, 230, 180,
            230, 130, 180, 130, 230, 260, 350, 300, 230, 180,
            130, 180, 130, 90, 90, 60, 90, 90, 60, 90,
            90, 130, 180, 350, 560, 300, 130, 90, 50, 50,
            30, 60, 50, 90, 60, 130, 90, 300, 130, 110,
            90, 90]

# (j) ODP 1090 dust flux
odp1090_age = [2.503, 2.510, 2.514, 2.518, 2.523, 2.530, 2.534, 2.540, 2.550, 2.564,
               2.578, 2.585, 2.591, 2.598, 2.605, 2.612, 2.619, 2.626, 2.632, 2.638,
               2.643, 2.649, 2.654, 2.660, 2.665, 2.671, 2.676, 2.681, 2.687, 2.694,
               2.701, 2.709, 2.714, 2.719, 2.725, 2.735, 2.748, 2.762, 2.776, 2.787,
               2.796, 2.806, 2.813, 2.823, 2.834, 2.844, 2.858, 2.871, 2.885, 2.899,
               2.912, 2.926, 2.939, 2.953, 2.967, 2.980, 2.987, 2.994, 3.008, 3.021,
               3.035, 3.049, 3.062, 3.073, 3.085, 3.096, 3.107, 3.118, 3.124, 3.131,
               3.137, 3.144, 3.158, 3.171, 3.185, 3.199, 3.212, 3.221, 3.233, 3.244,
               3.253, 3.260, 3.271, 3.281, 3.290, 3.297, 3.304, 3.315, 3.328, 3.338,
               3.349, 3.363, 3.376, 3.390, 3.403, 3.417, 3.431, 3.444, 3.458, 3.472,
               3.485, 3.499, 3.513, 3.526, 3.540, 3.550, 3.560, 3.567, 3.574, 3.585,
               3.595, 3.606, 3.615, 3.629, 3.642, 3.656, 3.670, 3.683, 3.697, 3.711,
               3.724, 3.738, 3.752, 3.765, 3.779, 3.792, 3.806, 3.820, 3.833, 3.847,
               3.861, 3.874, 3.888, 3.902, 3.915, 3.929, 3.943, 3.956, 3.970, 3.984,
               3.998]
odp1090_flux = [0.28, 0.41, 0.50, 0.32, 0.19, 0.24, 0.38, 0.21, 0.24, 0.26,
                0.30, 0.35, 0.41, 0.68, 0.34, 0.50, 0.32, 0.41, 0.70, 0.32,
                0.61, 0.35, 0.28, 0.39, 0.50, 0.28, 0.35, 0.84, 0.17, 0.16,
                0.17, 0.21, 0.30, 0.32, 0.19, 0.11, 0.12, 0.11, 0.14, 0.17,
                0.28, 0.46, 0.24, 0.26, 0.24, 0.21, 0.19, 0.20, 0.19, 0.20,
                0.19, 0.16, 0.20, 0.17, 0.21, 0.26, 0.34, 0.17, 0.15, 0.14,
                0.15, 0.12, 0.15, 0.10, 0.12, 0.11, 0.14, 0.24, 0.30, 0.19,
                0.11, 0.15, 0.19, 0.20, 0.19, 0.18, 0.19, 0.15, 0.21, 0.19,
                0.35, 0.21, 0.19, 0.17, 0.24, 0.46, 0.24, 0.17, 0.19, 0.26,
                0.17, 0.19, 0.17, 0.19, 0.16, 0.12, 0.11, 0.15, 0.17, 0.19,
                0.18, 0.20, 0.19, 0.21, 0.24, 0.26, 0.19, 0.12, 0.11, 0.15,
                0.19, 0.28, 0.24, 0.19, 0.17, 0.20, 0.18, 0.21, 0.18, 0.16,
                0.15, 0.14, 0.12, 0.11, 0.10, 0.09, 0.08, 0.09, 0.08, 0.09,
                0.10, 0.08, 0.09, 0.08, 0.07, 0.08, 0.09, 0.08, 0.09, 0.12,
                0.19]

# shaded intervals (Myr)
glacial_bands = [(2.510, 2.542), (2.595, 2.617), (2.637, 2.656), (2.678, 2.695),
                 (2.793, 2.820), (2.997, 3.026), (3.120, 3.148)]
strong_bands = [(2.710, 2.734), (3.271, 3.316)]
pale_bands = [(3.538, 3.564)]
warm_start = 3.686

# ---------------- layout ----------------
W, H = 675, 1191
X0, X1 = 80, 553
Y0, Y1 = 60, 1132

fig = plt.figure(figsize=(W / 100, H / 100), dpi=100)
rect = [X0 / W, 1 - Y1 / H, (X1 - X0) / W, (Y1 - Y0) / H]


def ftext(x, y, s, **kw):
    kw.setdefault('ha', 'center')
    kw.setdefault('va', 'center')
    return fig.text(x / W, 1 - y / H, s, **kw)


# base axes: bands, gradient, age axes
ax0 = fig.add_axes(rect)
cmap = LinearSegmentedColormap.from_list('warm', ['#FFFFFF', '#EC7D0C'])
ax0.imshow(np.linspace(0, 1, 256).reshape(1, -1), extent=(warm_start, 4.0, Y1, Y0),
           aspect='auto', cmap=cmap, zorder=0)
for a, b in glacial_bands:
    ax0.axvspan(a, b, color='#E0DFEF', lw=0, zorder=1)
for a, b in strong_bands:
    ax0.axvspan(a, b, color='#7ACDF0', lw=0, zorder=1)
for a, b in pale_bands:
    ax0.axvspan(a, b, color='#B5E1F6', lw=0, zorder=1)
ax0.set_xlim(2.5, 4.0)
ax0.set_ylim(Y1, Y0)
ax0.set_yticks([])
for s in ['left', 'right', 'top']:
    ax0.spines[s].set_visible(False)
ax0.spines['bottom'].set_linewidth(1.6)
ax0.xaxis.set_major_locator(MultipleLocator(0.1))
ax0.xaxis.set_minor_locator(MultipleLocator(0.05))
ax0.xaxis.set_major_formatter(FuncFormatter(lambda v, p: f'{v:.1f}'))
ax0.tick_params(axis='x', which='major', length=11, width=1.6, labelsize=10, pad=3)
ax0.tick_params(axis='x', which='minor', length=5.5, width=1.6)

axt = ax0.twiny()
axt.set_xlim(2500, 4000)
for s in ['left', 'right', 'bottom']:
    axt.spines[s].set_visible(False)
axt.spines['top'].set_linewidth(1.6)
axt.xaxis.set_major_locator(MultipleLocator(100))
axt.xaxis.set_minor_locator(MultipleLocator(50))
axt.xaxis.set_major_formatter(FuncFormatter(
    lambda v, p: f'{v:.0f}' if (round(v) - 2500) % 200 == 0 and v < 3990 else ''))
axt.tick_params(axis='x', which='major', length=11, width=1.6, labelsize=10, pad=7)
axt.tick_params(axis='x', which='minor', length=5.5, width=1.6)

ftext(316, 10, 'Age (kyr)', fontsize=14)
ftext(316, 1182, 'Age (Myr)', fontsize=14)


def make_panel(side, v0, p0, v1, p1, ticks, minors):
    ax = fig.add_axes(rect)
    ax.patch.set_visible(False)
    ax.set_xlim(2.5, 4.0)
    k = (v1 - v0) / (p1 - p0)
    ax.set_ylim(v0 + (Y1 - p0) * k, v0 + (Y0 - p0) * k)
    for s in ax.spines:
        ax.spines[s].set_visible(s == side)
    ax.spines[side].set_bounds(ticks[0], ticks[-1])
    ax.spines[side].set_linewidth(1.6)
    ax.xaxis.set_visible(False)
    if side == 'left':
        ax.yaxis.tick_left()
    else:
        ax.yaxis.tick_right()
    ax.set_yticks(ticks)
    ax.set_yticklabels([f'{t:g}' for t in ticks])
    ax.set_yticks(minors, minor=True)
    ax.tick_params(axis='y', which='major', length=11, width=1.6, pad=4, labelsize=9)
    ax.tick_params(axis='y', which='minor', length=6, width=1.6)
    return ax


C_LR04 = '#34389A'
C_ODP18 = '#8E8279'
C_885 = '#1C9BD7'
C_RED = '#E31E24'
C_HE = '#8A7B70'
C_CIA = '#F08A12'
C_MAG = '#E0147F'
C_NAVY = '#1F2A80'
C_ALK = '#E8177F'
C_1090 = '#A8488F'

# (a) right axis: ODP 1208 d18O
ax_ar = make_panel('right', 2.4, 82, 3.6, 200, [2.4, 2.8, 3.2, 3.6], [2.6, 3.0, 3.4])
ax_ar.plot(odp18_age, odp18_d18o, color=C_ODP18, lw=1.8)
# (a) left axis: LR04
ax_a = make_panel('left', 3.0, 82, 4.2, 199.6, [3, 3.2, 3.4, 3.6, 3.8, 4, 4.2], [])
ax_a.axhline(3.235, color='#8080C0', lw=1.2, ls=(0, (4, 3)))
ax_a.plot(lr04_age, lr04_d18o, color=C_LR04, lw=1.8)
ax_a.annotate('', xy=(3.903, 3.235), xytext=(3.822, 3.41),
              arrowprops=dict(arrowstyle='-|>', color='k', lw=1.2, mutation_scale=10))
ax_a.annotate('', xy=(3.819, 4.12), xytext=(3.819, 3.79),
              arrowprops=dict(arrowstyle='-|>', color=C_NAVY, lw=2.2, mutation_scale=20))

# (b) ODP 885
ax_b = make_panel('left', 0.04, 216, 0.24, 334.5, [0.04, 0.08, 0.12, 0.16, 0.2, 0.24],
                  [0.06, 0.10, 0.14, 0.18, 0.22])
ax_b.plot(odp885_age, odp885_flux, color=C_885, lw=1.5, marker='D', ms=3.6,
          mfc=C_885, mec='#0B4F73', mew=0.5, clip_on=False)

# (c) age-model MAR
ax_c = make_panel('right', 0, 328, 25, 447, [0, 5, 10, 15, 20, 25], [2.5, 7.5, 12.5, 17.5, 22.5])
ax_c.plot(mar_age, mar_flux, color=C_RED, lw=1.3, marker='o', ms=3.3,
          mfc=C_RED, mec='#5A0A0A', mew=0.4, clip_on=False)

# (d) 3He-derived MAR
ax_d = make_panel('left', 0, 425, 20, 543, [0, 4, 8, 12, 16, 20], [2, 6, 10, 14, 18])
ax_d.plot(he_age, he_flux, color=C_HE, lw=1.6)

# (e) CIA
ax_e = make_panel('right', 0.5, 514, 0.7, 633, [0.5, 0.55, 0.6, 0.65, 0.7],
                  [0.525, 0.575, 0.625, 0.675])
ax_e.plot(cia_age, cia_val, color=C_CIA, lw=0.9, marker='o', ms=4.2,
          mfc=C_CIA, mec='#5C3A05', mew=0.4, clip_on=False)

# (f) Rb/Sr
ax_f = make_panel('left', 0.4, 617, 1.2, 736, [0.4, 0.6, 0.8, 1, 1.2], [0.5, 0.7, 0.9, 1.1])
ax_f.plot(rbsr_age, rbsr_val, color=C_MAG, lw=1.0, marker='o', ms=4.2,
          mfc=C_MAG, mec='#5A0830', mew=0.4, clip_on=False)

# (g) HIRM flux
ax_g = make_panel('right', 0, 732, 16, 852, [0, 4, 8, 12, 16], [2, 6, 10, 14])
ax_g.plot(hirm_age, hirm_flux, color=C_MAG, lw=1.0, marker='D', ms=2.6,
          mfc=C_MAG, mec='#5A0830', mew=0.4, clip_on=False)

# (h) ODP 1208 dust flux
ax_h = make_panel('left', 0, 811, 2.5, 928, [0, 0.5, 1, 1.5, 2, 2.5],
                  [0.25, 0.75, 1.25, 1.75, 2.25])
ax_h.plot(dust1208_age, dust1208_flux, color=C_NAVY, lw=1.5, marker='o', ms=4.6,
          mfc=C_NAVY, mec='#0D1445', mew=0.4, clip_on=False)

# (i) n-alkane flux
ax_i = make_panel('right', 0, 908, 3000, 1026, [0, 1000, 2000, 3000], [500, 1500, 2500])
ax_i.plot(alk_age, alk_flux, color=C_ALK, lw=1.5)

# (j) ODP 1090 dust flux
ax_j = make_panel('left', 0, 1008, 0.8, 1128, [0, 0.2, 0.4, 0.6, 0.8], [0.1, 0.3, 0.5, 0.7])
ax_j.plot(odp1090_age, odp1090_flux, color=C_1090, lw=1.5)

# ---------------- texts ----------------
for lab, y in [('(a)', 71), ('(b)', 223), ('(c)', 337), ('(d)', 430), ('(e)', 536),
               ('(f)', 624), ('(g)', 728), ('(h)', 812), ('(i)', 904), ('(j)', 1016)]:
    ftext(81, y, lab, ha='left', fontsize=10, fontweight='bold', color='#222222')

# left axis titles
ftext(14, 142, 'δ$^{18}$O (PDB, ‰)', rotation=90, fontsize=9.5, color=C_LR04)
ftext(29, 112, 'LR04', rotation=90, fontsize=9.5, color=C_LR04)
ftext(8, 257, 'Dust flux', rotation=90, fontsize=9.5, color=C_885)
ftext(21, 267, '(g cm$^{-2}$ kyr$^{-1}$)', rotation=90, fontsize=9, color=C_885)
ftext(19, 483, '$^{3}$He$_{ET}$-derived MAR', rotation=90, fontsize=9.5, color=C_HE)
ftext(33, 478, 'Flux of Rel$_{Hm+Gt}$', rotation=90, fontsize=9.5, color=C_HE)
ftext(24, 648, 'Rb/Sr', rotation=90, fontsize=9.5, color=C_MAG)
ftext(38, 683, 'ODP Site 1208', rotation=90, fontsize=9.5, color=C_MAG)
ftext(12, 873, 'ODP 1208 dust flux', rotation=90, fontsize=9.5, color=C_NAVY)
ftext(27, 865, '(g cm$^{-2}$ kyr$^{-1}$)', rotation=90, fontsize=9, color=C_NAVY)
ftext(9, 1082, 'Dust flux', rotation=90, fontsize=9.5, color=C_1090)
ftext(22, 1067, '(g cm$^{-2}$ kyr$^{-1}$)', rotation=90, fontsize=9, color=C_1090)

# right axis titles
ftext(623, 130, 'ODP 1208 δ$^{18}$O', rotation=270, fontsize=9.5, color=C_ODP18)
ftext(608, 133, '(‰ VPDB)', rotation=270, fontsize=9.5, color=C_ODP18)
ftext(620, 397, 'Age Model-derived MAR', rotation=270, fontsize=9.5, color=C_RED)
ftext(606, 398, 'Flux of Rel$_{Hm+Gt}$', rotation=270, fontsize=9.5, color=C_RED)
ftext(625, 568, 'CIA', rotation=270, fontsize=9.5, color=C_CIA)
ftext(612, 573, 'ODP Site 1208', rotation=270, fontsize=9.5, color=C_CIA)
ftext(632, 793, 'Site 1208', rotation=270, fontsize=9.5, color=C_MAG)
ftext(617, 796, 'HIRM Flux', rotation=270, fontsize=9.5, color=C_MAG)
ftext(601, 790, '(10$^{-7}$Am$^{2}$/cm$^{2}$kyr)', rotation=270, fontsize=9, color=C_MAG)
ftext(632, 960, 'n-alkane flux', rotation=270, fontsize=9.5, color=C_ALK)
ftext(617, 962, '(ng cm$^{-2}$ kyr$^{-1}$)', rotation=270, fontsize=9, color=C_ALK)

# site labels
ftext(491, 305, 'North Pacific\n(ODP 885)', fontsize=9.5, color=C_885)
ftext(494, 397, 'North Pacific\n(ODP Site 1208)\nThis study', fontsize=9.5, color=C_RED)
ftext(494, 535, 'North Pacific\n(ODP Site 1208)\nThis study', fontsize=9.5, color=C_CIA)
ftext(494, 662, 'North Pacific\n(ODP Site 1208)\nThis study', fontsize=9.5, color=C_MAG)
ftext(494, 772, 'North Pacific\n(ODP Site 1208)', fontsize=9.5, color=C_MAG)
ftext(494, 874, 'North Pacific\n(ODP Site 1208)', fontsize=9.5, color=C_NAVY)
ftext(494, 929, 'North Atlantic\n(IODP U1313)', fontsize=9.5, color=C_ALK)
ftext(500, 1070, 'South Atlantic\n(ODP 1090)', fontsize=9.5, color=C_1090)

# event labels in (a)
for s, x, y, c in [('100', 90, 204, '#333333'), ('104', 106, 175, '#333333'),
                   ('G2', 125, 179, '#333333'), ('G4', 138, 189, '#333333'),
                   ('G6', 152, 178, '#333333'), ('G10', 178, 167, '#333333'),
                   ('G20', 240, 147, '#333333'), ('KM2', 279, 143, '#333333'),
                   ('mPWP', 302, 121, C_RED), ('M2', 332, 184, '#333333'),
                   ('MG6', 384, 120, C_RED), ('Gi2', 436, 133, '#333333')]:
    ftext(x, y, s, fontsize=9, color=c)
ftext(499, 131, 'modern value', fontsize=9.5, color='#222222')
ftext(497, 148, 'NH ice volume', fontsize=9.5, color=C_NAVY)

# increasing dust arrow
ax0.annotate('', xy=(647 / W, 1 - 972 / H), xytext=(647 / W, 1 - 582 / H),
             xycoords='figure fraction', textcoords='figure fraction',
             arrowprops=dict(arrowstyle='-|>', color=C_RED, lw=1.6, mutation_scale=20),
             annotation_clip=False)
ftext(663, 748, 'Increasing dust fluxes', rotation=270, fontsize=12.5, color=C_RED)

fig.savefig('out.png', dpi=100)
